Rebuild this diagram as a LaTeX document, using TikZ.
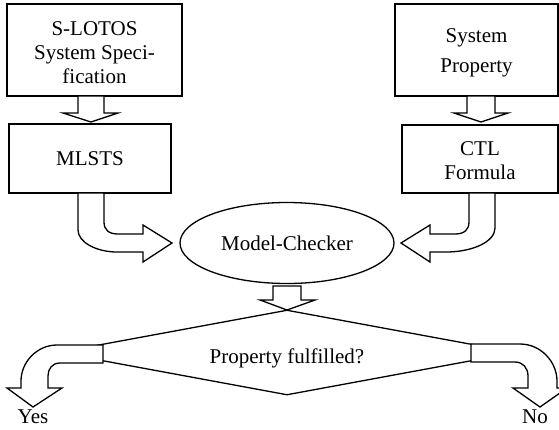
\documentclass[tikz,border=0pt]{standalone}
\usepackage{fontspec}
\setmainfont{Liberation Serif}
\usetikzlibrary{shapes.geometric}
\newcommand\boxlines[2][-4pt]{\raisebox{#1}[\height][\depth]{\begin{tabular}{@{}c@{}}#2\end{tabular}}}
\begin{document}
\begin{tikzpicture}[x=1pt,y=1pt,
  txt/.style={font=\fontsize{21}{24}\selectfont},
  box/.style={draw, line width=1.3pt, align=center, inner sep=0pt, txt},
  barrow/.style={draw, fill=white, line width=1.3pt, line join=miter},
  lbl/.style={txt, inner sep=0pt, anchor=base}]
\useasboundingbox (0,0) rectangle (559,-429);
% boxes
\node[box, minimum width=175pt, minimum height=92pt] (slotos) at (94.5,-50) {\boxlines[-5pt]{S-LOTOS\\System Speci-\\fication}};
\node[box, minimum width=162pt, minimum height=69pt] (mlsts) at (90,-158.5) {MLSTS};
\node[box, minimum width=163pt, minimum height=92pt] (sysprop) at (476.5,-50) {\boxlines[-3pt]{System\\[6pt]Property}};
\node[box, minimum width=156pt, minimum height=68pt] (ctl) at (480,-159) {\boxlines[-4pt]{CTL\\Formula}};
% model checker
\node[ellipse, draw, line width=1.3pt, minimum width=214pt, minimum height=81pt, inner sep=0pt, txt] (mc) at (287,-243) {Model-Checker};
% decision
\node[diamond, draw, line width=1.3pt, minimum width=458pt, minimum height=85pt, shape aspect=5.4, inner sep=0pt, txt] (prop) at (287,-352.5) {\raisebox{-6pt}[\height][\depth]{Property fulfilled?}};
% straight block arrows
\draw[barrow] (78,-96) -- (78,-113) -- (63,-113) -- (91,-122) -- (118,-113) -- (104,-113) -- (104,-96) -- cycle;
\draw[barrow] (467,-96) -- (467,-113) -- (454,-113) -- (481,-122) -- (508,-113) -- (495,-113) -- (495,-96) -- cycle;
% curved arrow MLSTS -> model checker
\draw[barrow] (78,-193) -- (78,-230) .. controls (78,-242) and (96,-252) .. (117,-252) -- (143,-252) -- (143,-262) -- (172,-243) -- (143,-225) -- (143,-234) -- (118,-234) .. controls (109,-234) and (104,-230) .. (104,-222) -- (104,-193) -- cycle;
% curved arrow CTL -> model checker
\draw[barrow] (495,-193) -- (495,-228) .. controls (495,-242) and (472,-252) .. (446,-252) -- (430,-252) -- (430,-262) -- (401,-243) -- (430,-225) -- (430,-234) -- (455,-234) .. controls (464,-234) and (469,-230) .. (469,-222) -- (469,-193) -- cycle;
% model checker -> decision
\draw[barrow] (273,-286) -- (273,-300) -- (260,-300) -- (287,-310) -- (315,-300) -- (301,-300) -- (301,-286) -- cycle;
% Yes arrow
\draw[barrow] (103,-345) -- (57,-345) .. controls (37,-345) and (21,-362) .. (21,-381) -- (21,-388) -- (7,-388) -- (33,-407) -- (62,-388) -- (48,-388) -- (48,-376) .. controls (48,-369) and (52,-363) .. (60,-363) -- (103,-363) -- cycle;
% No arrow
\draw[barrow] (471,-344) -- (520,-344) .. controls (541,-344) and (557,-362) .. (557,-381) -- (557,-388) -- (567,-388) -- (540,-407) -- (513,-388) -- (528,-388) -- (528,-376) .. controls (528,-368) and (523,-362) .. (515,-362) -- (471,-362) -- cycle;
% outcome labels
\node[lbl] (yes) at (33,-423) {Yes};
\node[lbl] (no) at (535,-423) {No};
\end{tikzpicture}
\end{document}
